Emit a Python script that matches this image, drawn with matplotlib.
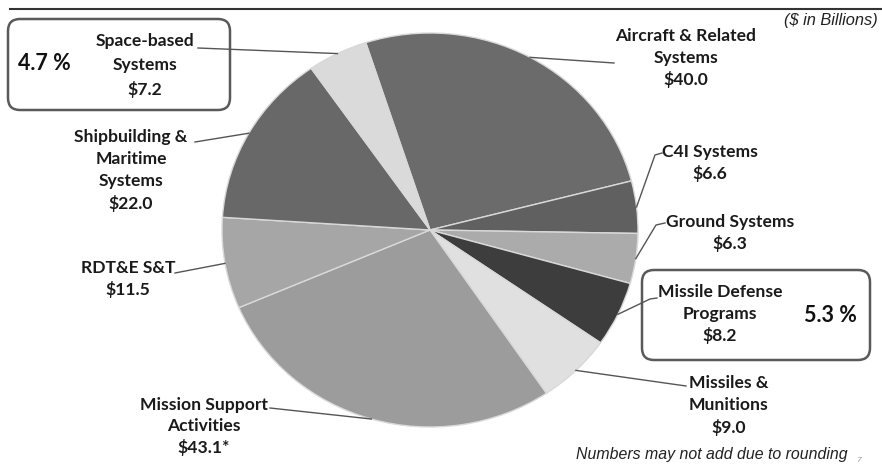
import matplotlib
matplotlib.use("Agg")
import matplotlib.pyplot as plt
from matplotlib.patches import FancyBboxPatch
import numpy as np

# ---- data ----
categories = ["Aircraft & Related\nSystems", "C4I Systems", "Ground Systems",
              "Missile Defense\nPrograms", "Missiles &\nMunitions",
              "Mission Support\nActivities", "RDT&E S&T",
              "Shipbuilding &\nMaritime\nSystems", "Space-based\nSystems"]
values = [40.0, 6.6, 6.3, 8.2, 9.0, 43.1, 11.5, 22.0, 7.2]
value_labels = ["$40.0", "$6.6", "$6.3", "$8.2", "$9.0", "$43.1*", "$11.5", "$22.0", "$7.2"]
highlight = ["Space-based\nSystems", "Missile Defense\nPrograms"]

colors = ["#6b6b6b", "#606060", "#ababab", "#3d3d3d", "#e0e0e0",
          "#9c9c9c", "#a6a6a6", "#686868", "#dadada"]

W, H = 882, 466
fig = plt.figure(figsize=(W / 100, H / 100), dpi=100)
fig.patch.set_facecolor("white")

# pie axes (slightly elliptical, like the reference)
cx, cy, rx, ry = 430, 230, 208, 197
pax = fig.add_axes([(cx - rx) / W, (H - cy - ry) / H, 2 * rx / W, 2 * ry / H])
wedges, _ = pax.pie(values, colors=colors, startangle=108, counterclock=False,
                    wedgeprops=dict(edgecolor="#d9d9d9", linewidth=1.0, clip_on=False))
pax.set_aspect("auto")
pax.set_xlim(-1, 1)
pax.set_ylim(-1, 1)
pax.axis("off")

# overlay axes in pixel coordinates
ox = fig.add_axes([0, 0, 1, 1], zorder=5)
ox.set_xlim(0, W)
ox.set_ylim(H, 0)
ox.axis("off")
ox.patch.set_alpha(0)

def edge_point(w):
    a = np.deg2rad((w.theta1 + w.theta2) / 2)
    disp = pax.transData.transform((np.cos(a), np.sin(a)))
    return ox.transData.inverted().transform(disp)

FONT = "Lato"
fs = 12.6

# label layout: (center x, first line y, line step, leader start points)
layout = {
    "Aircraft & Related\nSystems": (686, 36, 22, [(614, 63)]),
    "C4I Systems": (710, 152, 22, [(662, 153), (655, 155)]),
    "Ground Systems": (730, 222, 21, [(665, 223), (656, 225)]),
    "Missile Defense\nPrograms": (720, 292, 21.5, [(657, 298), (650, 299)]),
    "Missiles &\nMunitions": (729, 383, 22, [(686, 386)]),
    "Mission Support\nActivities": (204, 405, 21, [(270, 408)]),
    "RDT&E S&T": (128, 268, 21, [(175, 273)]),
    "Shipbuilding &\nMaritime\nSystems": (131, 137, 22, [(195, 142)]),
    "Space-based\nSystems": (145, 41, 24, [(198, 48)]),
}

total = sum(values)
for w, cat, val in zip(wedges, categories, value_labels):
    x, y0, dy, pts = layout[cat]
    lines = cat.split("\n") + [val]
    for i, ln in enumerate(lines):
        ox.text(x, y0 + i * dy, ln, ha="center", va="center", fontsize=fs,
                fontweight="bold", family=FONT, color="#1a1a1a", zorder=6)
    ex, ey = edge_point(w)
    xs = [p[0] for p in pts] + [ex]
    ys = [p[1] for p in pts] + [ey]
    ox.plot(xs, ys, color="#555555", lw=1.0, zorder=4)

# highlight boxes with percentage
boxes = {
    "Space-based\nSystems": ((8, 19, 230, 110), (44, 64)),
    "Missile Defense\nPrograms": ((642, 270, 870, 360), (830, 315)),
}
for cat in highlight:
    (x0, y0, x1, y1), (px, py) = boxes[cat]
    b = FancyBboxPatch((x0, y0), x1 - x0, y1 - y0,
                       boxstyle="round,pad=0,rounding_size=12",
                       fc="none", ec="#5a5a5a", lw=1.8, zorder=3)
    ox.add_patch(b)
    pct = values[categories.index(cat)] / total * 100
    ox.text(px, py, f"{pct:.1f} %", ha="center", va="center", fontsize=15.5,
            fontweight="bold", family=FONT, color="#111111", zorder=6)

# top rule and notes
ox.plot([10, 882], [9, 9], color="#333333", lw=1.5)
ox.text(878, 21, "($ in Billions)", ha="right", va="center", fontsize=11.8,
        style="italic", family="Liberation Sans", color="#222222")
ox.text(848, 455, "Numbers may not add due to rounding", ha="right", va="center",
        fontsize=11.4, style="italic", family="Liberation Sans", color="#222222")
ox.text(858, 461, "7", ha="center", va="center", fontsize=6, color="#999999",
        style="italic", family="Liberation Sans")

fig.savefig("out.png", dpi=100, facecolor="white")
